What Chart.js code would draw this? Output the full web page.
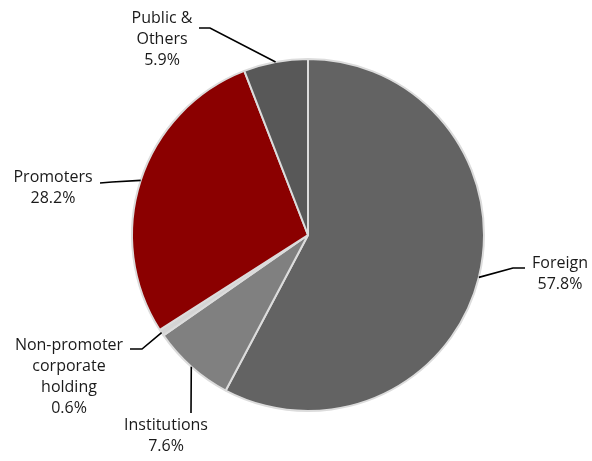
<!DOCTYPE html>
<html>
<head>
<meta charset="utf-8">
<script src="https://cdn.jsdelivr.net/npm/chart.js@4"></script>
<style>
  html, body { margin: 0; padding: 0; background: #fff; }
  #wrap { width: 592px; height: 461px; }
</style>
</head>
<body>
<div id="wrap"><canvas id="pie"></canvas></div>
<script>
// data
const categories = ["Foreign", "Institutions", "Non-promoter corporate holding", "Promoters", "Public & Others"];
const shares = [57.8, 7.6, 0.6, 28.2, 5.9];
// label text lines, one list per slice
const labelLines = [
  ["Foreign", "57.8%"],
  ["Institutions", "7.6%"],
  ["Non-promoter", "corporate", "holding", "0.6%"],
  ["Promoters", "28.2%"],
  ["Public &", "Others", "5.9%"]
];
const sliceColors = ["#636363", "#808080", "#d4d4d4", "#8b0000", "#585858"];

// where the leader lines bend / end and where text goes (canvas px)
const labelLayout = [
  { elbow: [513, 268], end: [525, 268], text: [560, 263] },
  { elbow: [191, 412], end: [191, 413], text: [166, 425] },
  { elbow: [142, 349], end: [130, 349], text: [69, 345] },
  { elbow: [112, 182], end: [100, 183], text: [53, 177] },
  { elbow: [210, 28], end: [199, 28], text: [162, 18] }
];

// leader lines + labels
const leaderLabels = {
  id: "leaderLabels",
  afterDatasetsDraw(chart) {
    const ctx = chart.ctx;
    const arcs = chart.getDatasetMeta(0).data;
    ctx.save();
    arcs.forEach((arc, i) => {
      const p = arc.getProps(["x", "y", "startAngle", "endAngle", "outerRadius"], true);
      const mid = (p.startAngle + p.endAngle) / 2;
      const sx = p.x + Math.cos(mid) * p.outerRadius;
      const sy = p.y + Math.sin(mid) * p.outerRadius;
      const l = labelLayout[i];
      ctx.beginPath();
      ctx.strokeStyle = "#000";
      ctx.lineWidth = 1.6;
      ctx.moveTo(sx, sy);
      ctx.lineTo(l.elbow[0], l.elbow[1]);
      ctx.lineTo(l.end[0], l.end[1]);
      ctx.stroke();

      ctx.fillStyle = "#1a1a1a";
      ctx.font = "16px 'Open Sans'";
      ctx.textAlign = "center";
      ctx.textBaseline = "middle";
      labelLines[i].forEach((t, k) => {
        ctx.fillText(t, l.text[0], l.text[1] + k * 21);
      });
    });
    ctx.restore();
  }
};

new Chart(document.getElementById("pie"), {
  type: "pie",
  data: {
    labels: categories,
    datasets: [{
      data: shares,
      backgroundColor: sliceColors,
      borderColor: "#dcdcdc",
      borderWidth: 2
    }]
  },
  options: {
    responsive: true,
    maintainAspectRatio: false,
    animation: false,
    layout: { padding: { left: 131, right: 107, top: 58, bottom: 49 } },
    plugins: {
      legend: { display: false },
      tooltip: { enabled: false }
    }
  },
  plugins: [leaderLabels]
});
</script>
</body>
</html>
